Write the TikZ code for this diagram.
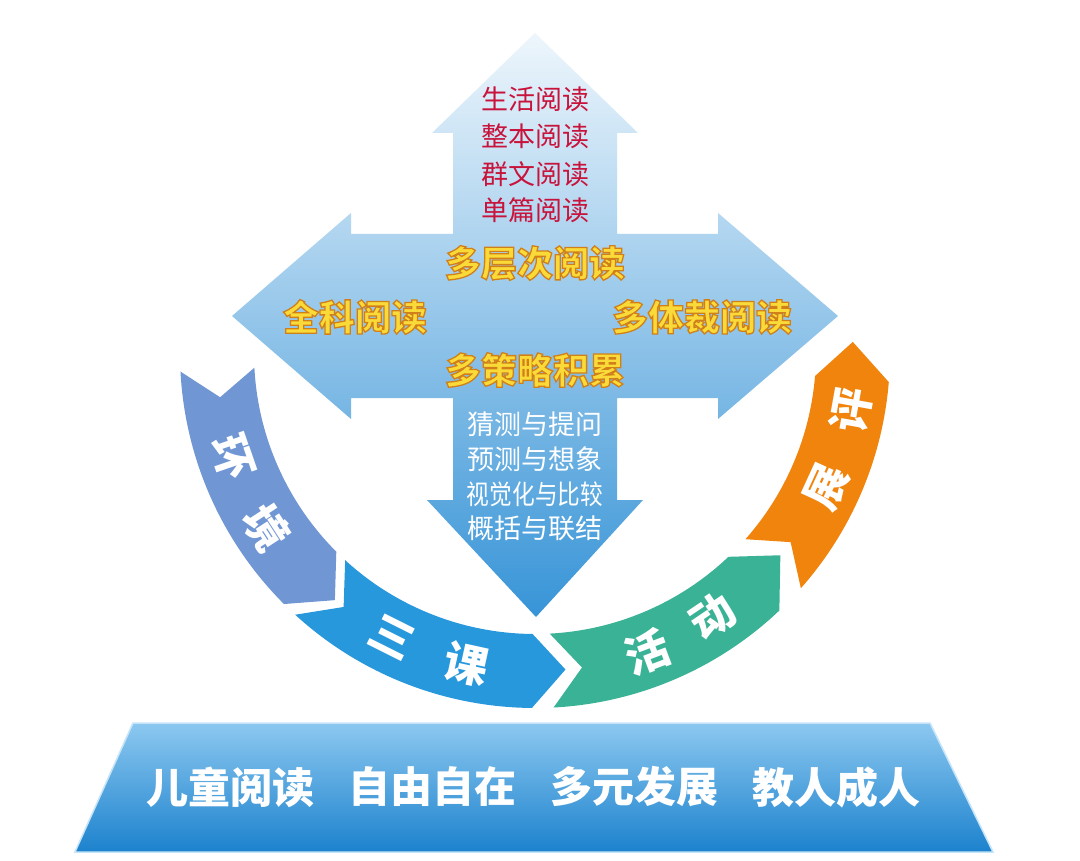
\documentclass[tikz,border=0pt]{standalone}
\usepackage{fontspec}
\newfontfamily\cjk{Noto Sans CJK SC}
\usetikzlibrary{calc}
\definecolor{crossTop}{RGB}{238,246,252}
\definecolor{crossMid}{RGB}{166,210,240}
\definecolor{crossBot}{RGB}{55,148,215}
\definecolor{segA}{RGB}{112,150,212}
\definecolor{segB}{RGB}{40,152,220}
\definecolor{segC}{RGB}{58,178,150}
\definecolor{segD}{RGB}{240,132,12}
\definecolor{redtext}{RGB}{200,20,60}
\definecolor{ygold}{RGB}{250,218,56}
\definecolor{baseTop}{RGB}{140,200,240}
\definecolor{baseBot}{RGB}{28,130,205}
\newcommand\outlined[1]{\special{pdf:code 2 Tr 1.3 w 0.82 0.50 0.10 RG}#1\special{pdf:code 0 Tr}}
\tikzset{
  redtxt/.style={text=redtext, inner sep=0, font=\cjk\fontsize{27}{27}\selectfont},
  wtxt/.style={text=white, inner sep=0, font=\cjk\fontsize{27}{27}\selectfont},
  yfill/.style={text=ygold, inner sep=0, font=\cjk\bfseries\fontsize{36}{36}\selectfont},
  ringtxt/.style={text=white, inner sep=0, font=\cjk\bfseries\fontsize{44}{44}\selectfont},
  basetxt/.style={text=white, inner sep=0, font=\cjk\bfseries\fontsize{42}{42}\selectfont},
}
\begin{document}
\begin{tikzpicture}[x=1pt,y=-1pt]
\useasboundingbox (0,0) rectangle (1080,861);
\fill[white] (0,0) rectangle (1080,861);

% central cross of four arrows
\path[top color=crossTop, middle color=crossMid, bottom color=crossBot]
  (535,33) -- (638,133) -- (617,133) -- (617,234) -- (718,234) -- (718,213)
  -- (838,316) -- (718,419) -- (718,398) -- (617,398) -- (617,500) -- (643,500)
  -- (536,617) -- (427,500) -- (453,500) -- (453,398) -- (351,398) -- (351,419)
  -- (232,316) -- (351,213) -- (351,234) -- (453,234) -- (453,133) -- (432,133) -- cycle;

% red texts in the up arrow
\node[redtxt] (r1) at (535,99) {生活阅读};
\node[redtxt] (r2) at (535,136) {整本阅读};
\node[redtxt] (r3) at (535,174) {群文阅读};
\node[redtxt] (r4) at (535,210) {单篇阅读};

% yellow labels
\node[yfill] (yc) at (535,263) {\outlined{多层次阅读}};
\node[yfill] (yl) at (355,317) {\outlined{全科阅读}};
\node[yfill] (yr) at (702,317) {\outlined{多体裁阅读}};
\node[yfill] (yb) at (535,370) {\outlined{多策略积累}};

% white texts in the down arrow
\node[wtxt] (w1) at (535,424) {猜测与提问};
\node[wtxt] (w2) at (535,459) {预测与想象};
\node[wtxt, xscale=0.84] (w3) at (535,494) {视觉化与比较};
\node[wtxt] (w4) at (535,528) {概括与联结};

% ring of chevron segments
\coordinate (O) at (535,353);
\begin{scope}[shift={(535,353)}]
\fill[segA] (177:355) arc[start angle=177, end angle=135, radius=355] -- (129:318)
  -- (135:281) arc[start angle=135, end angle=177, radius=281] -- (172:318) -- cycle;
\fill[segB] (132.5:355) arc[start angle=132.5, end angle=90.5, radius=355] -- (84.5:318)
  -- (90.5:281) arc[start angle=90.5, end angle=132.5, radius=281] -- (127:318) -- cycle;
\fill[segC] (87:355) arc[start angle=87, end angle=46.5, radius=355] -- (39.5:318)
  -- (46.5:281) arc[start angle=46.5, end angle=87, radius=281] -- (81.5:318) -- cycle;
\fill[segD] (41.5:355) arc[start angle=41.5, end angle=4.7, radius=355] -- (-2:318)
  -- (4.7:281) arc[start angle=4.7, end angle=41.5, radius=281] -- (36.5:318) -- cycle;
\end{scope}

\node[ringtxt, rotate=-71] (huan) at ($(O)+(161:320)$) {环};
\node[ringtxt, rotate=-57] (jing) at ($(O)+(147:320)$) {境};
\node[ringtxt, rotate=-26.6] (san) at ($(O)+(116.6:318)$) {三};
\node[ringtxt, rotate=-12.4] (ke) at ($(O)+(102.4:318)$) {课};
\node[ringtxt, rotate=20.6] (huo) at ($(O)+(69.4:320)$) {活};
\node[ringtxt, rotate=34] (dong) at ($(O)+(56:318)$) {动};
\node[ringtxt, rotate=65.3] (zhan) at ($(O)+(24.7:321)$) {展};
\node[ringtxt, rotate=79.8] (ping) at ($(O)+(10.2:321)$) {评};

% base trapezoid
\path[top color=baseTop, bottom color=baseBot, draw=baseTop!50!white, line width=1.5pt]
  (133,723) -- (930,723) -- (993,852) -- (75,852) -- cycle;
\node[basetxt] (b1) at (230,787) {儿童阅读};
\node[basetxt] (b2) at (432,787) {自由自在};
\node[basetxt] (b3) at (634,787) {多元发展};
\node[basetxt] (b4) at (836,787) {教人成人};
\end{tikzpicture}
\end{document}
